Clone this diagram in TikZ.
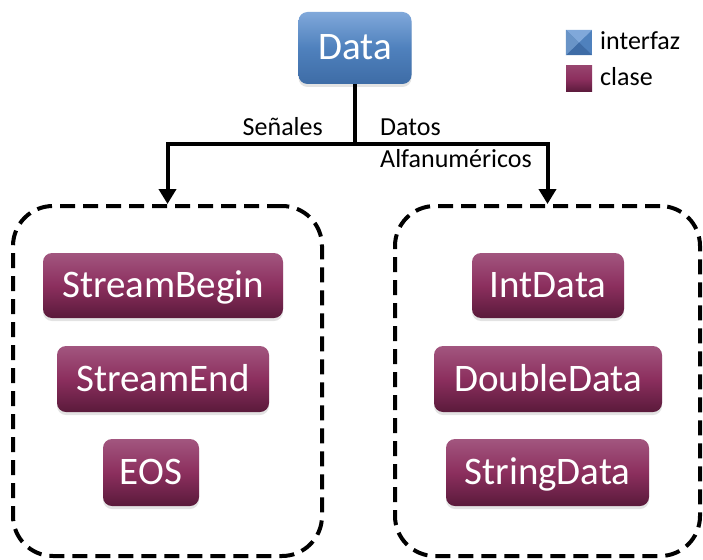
\documentclass[tikz,border=0pt]{standalone}
\usepackage{fontspec}
\setmainfont{Carlito}
\usetikzlibrary{arrows.meta,shadows,calc}

\definecolor{clsTop}{HTML}{A2567F}
\definecolor{clsMid}{HTML}{8C2F5E}
\definecolor{clsBot}{HTML}{5A1A3B}
\definecolor{ifTop}{HTML}{80A8DA}
\definecolor{ifMid}{HTML}{4F81BD}
\definecolor{ifBot}{HTML}{3E6CA6}

\tikzset{
  x=1pt, y=-1pt,
  boxbase/.style={rounded corners=9pt, inner sep=0pt, text=white,
    font=\fontsize{39}{39}\selectfont, text height=24pt, text depth=0pt,
    drop shadow={opacity=0.22, shadow xshift=0pt, shadow yshift=-3pt}},
  clsbox/.style={boxbase, top color=clsTop, bottom color=clsBot, middle color=clsMid},
  ifbox/.style={boxbase, top color=ifTop, bottom color=ifBot, middle color=ifMid},
  group/.style={draw=black, line width=4pt, dash pattern=on 15pt off 8pt,
    rounded corners=40pt, inner sep=0pt},
  lbl/.style={inner sep=0pt, font=\fontsize{26}{26}\selectfont},
  link/.style={draw=black, line width=4pt},
  arr/.style={link, -{Triangle[width=17pt,length=15pt]}},
}

\begin{document}
\begin{tikzpicture}
\useasboundingbox (0,0) rectangle (703,559);

% dashed groups
\node[group, minimum width=309pt, minimum height=350pt] (grpL) at (167.5,381) {};
\node[group, minimum width=305pt, minimum height=350pt] (grpR) at (547.5,381) {};

% interface
\node[ifbox, minimum width=113pt, minimum height=72pt] (data) at (355,48) {Data};

% classes, left group
\node[clsbox, minimum width=240pt, minimum height=65pt] (sbegin) at (163,285.5) {StreamBegin};
\node[clsbox, minimum width=212pt, minimum height=66pt] (send) at (163,379) {StreamEnd};
\node[clsbox, minimum width=96pt, minimum height=67pt] (eos) at (151,472.5) {EOS};

% classes, right group
\node[clsbox, minimum width=152pt, minimum height=65pt] (intd) at (548,285.5) {IntData};
\node[clsbox, minimum width=228pt, minimum height=66pt] (dbld) at (548,379) {DoubleData};
\node[clsbox, minimum width=203pt, minimum height=67pt] (strd) at (547.5,472.5) {StringData};

% connectors
\coordinate (split) at (355,144);
\draw[link] (data.south) -- (split);
\draw[arr] (split) -| (grpL.north);
\draw[arr] (split) -| (grpR.north);

% connector labels
\node[lbl, anchor=base east] (lsen) at (323,135) {Señales};
\node[lbl, anchor=base west] (ldat) at (380,135) {Datos};
\node[lbl, anchor=base west] (lalf) at (380,167) {Alfanuméricos};

% legend
\node[inner sep=0pt, minimum width=26pt, minimum height=25pt] (kif) at (579,42.5) {};
\fill[ifMid] (kif.north west) rectangle (kif.south east);
\fill[ifTop] (kif.north west) -- (kif.north east) -- (kif.center) -- cycle;
\fill[ifBot] (kif.south west) -- (kif.south east) -- (kif.center) -- cycle;
\fill[ifMid!85!white] (kif.north west) -- (kif.south west) -- (kif.center) -- cycle;
\node[inner sep=0pt, minimum width=26pt, minimum height=26pt,
  top color=clsMid!90!white, bottom color=clsBot, middle color=clsMid] (kcl) at (579,79) {};
\node[lbl, anchor=base west] (tif) at (600,50) {interfaz};
\node[lbl, anchor=base west] (tcl) at (600,86) {clase};
\end{tikzpicture}
\end{document}
